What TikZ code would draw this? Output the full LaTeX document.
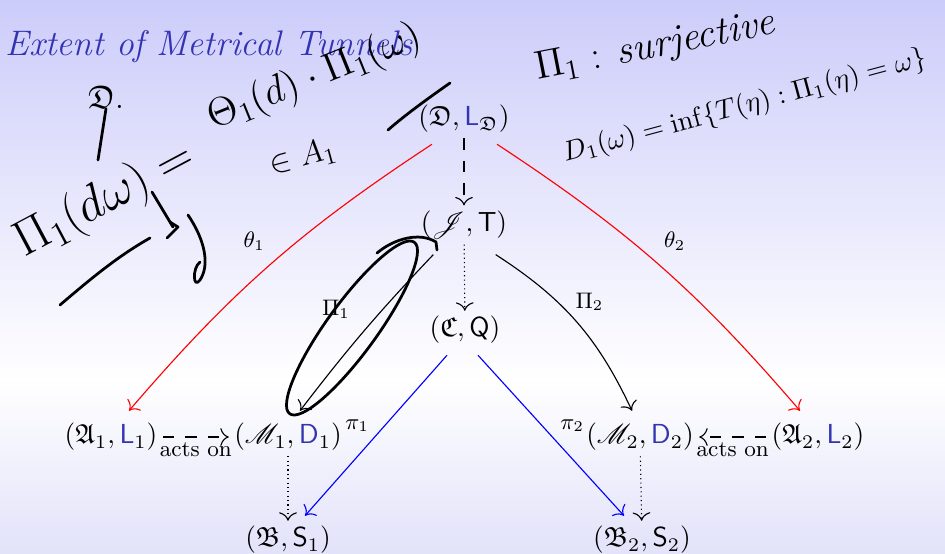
\RequirePackage{fix-cm}
\documentclass[tikz,border=0pt]{standalone}
\usepackage{amssymb}
\usepackage{mathrsfs}
\usetikzlibrary{arrows.meta,positioning}
\definecolor{slideblue}{RGB}{51,51,179}
\definecolor{bgtop}{RGB}{204,204,250}
\definecolor{bgbot}{RGB}{226,226,250}
\newcommand{\bluesf}[1]{\textcolor{slideblue}{\mathsf{#1}}}

\begin{document}
\begin{tikzpicture}[x=0.4pt,y=-0.4pt,
    obj/.style={inner sep=2pt, font=\fontsize{11}{13}\selectfont},
    lbl/.style={text=black, inner sep=1pt, font=\fontsize{9}{11}\selectfont},
    arr/.style={-{To[scale=1.3]}, line width=0.45pt},
    dashline/.style={dash pattern=on 4.5pt off 4.5pt},
    dotline/.style={dash pattern=on 0.45pt off 1.3pt},
    ink/.style={line width=1.1pt, line cap=round, line join=round},
    hand/.style={inner sep=0pt, font=\fontsize{#1}{#1}\selectfont}]
    % Fondo
    \shade[top color=bgtop, bottom color=white] (0,0) rectangle (945,380);
    \shade[top color=white, bottom color=bgbot] (0,380) rectangle (945,553);
    \useasboundingbox (0,0) rectangle (945,553);
    % Título
    \node[anchor=base west, inner sep=0pt, text=slideblue,
        font=\fontsize{14.2}{16}\selectfont\itshape] (title) at (5,55)
        {Extent of Metrical Tunnels};
    % Objetos
    \node[obj] (D)  at (464,119) {$(\mathfrak{D},\bluesf{L}_{\mathfrak{D}})$};
    \node[obj] (J)  at (464,225) {$(\mathscr{J},\mathsf{T})$};
    \node[obj] (C)  at (465,330) {$(\mathfrak{C},\mathsf{Q})$};
    \node[obj] (A1) at (111,437) {$(\mathfrak{A}_1,\bluesf{L}_1)$};
    \node[obj] (M1) at (288,437) {$(\mathscr{M}_1,\bluesf{D}_1)$};
    \node[obj] (M2) at (640,437) {$(\mathscr{M}_2,\bluesf{D}_2)$};
    \node[obj] (A2) at (818,437) {$(\mathfrak{A}_2,\bluesf{L}_2)$};
    \node[obj] (B1) at (288,540) {$(\mathfrak{B},\mathsf{S}_1)$};
    \node[obj] (B2) at (642,540) {$(\mathfrak{B}_2,\mathsf{S}_2)$};
    % Flechas
    \draw[arr, dashline] (D) -- (J);
    \draw[arr, dotline] (J) -- (C);
    \draw[arr, red] ([xshift=7.6pt,yshift=-2.4pt]D.south west) to[bend right=8]
        node[lbl, pos=0.4, left=12pt] {$\theta_1$} ([xshift=7.2pt,yshift=2.8pt]A1.north);
    \draw[arr, red] ([xshift=-7.2pt,yshift=-2.4pt]D.south east) to[bend left=8]
        node[lbl, pos=0.4, right=12pt] {$\theta_2$} ([xshift=-7.2pt,yshift=2.8pt]A2.north);
    \draw[arr] ([xshift=7.2pt,yshift=-4pt]J.south west) to[bend right=3]
        node[lbl, pos=0.35, left=12pt] {$\Pi_1$} ([xshift=4.8pt,yshift=2.8pt]M1.north);
    \draw[arr] ([xshift=-6.8pt,yshift=-4pt]J.south east) to[bend left=16]
        node[lbl, pos=0.36, right=6pt] {$\Pi_2$} ([xshift=-3.2pt,yshift=2.8pt]M2.north);
    \draw[arr, blue] ([xshift=-7.2pt,yshift=-2.4pt]C.south) --
        node[lbl, pos=0.44, left=5pt] {$\pi_1$} ([xshift=6.8pt,yshift=2pt]B1.north);
    \draw[arr, blue] ([xshift=5.2pt,yshift=-2.4pt]C.south) --
        node[lbl, pos=0.44, right=6pt] {$\pi_2$} ([xshift=-7.2pt,yshift=2pt]B2.north);
    \draw[arr, dashline] (A1) -- node[lbl, below=1pt] {acts on} (M1);
    \draw[arr, dashline] (A2) -- node[lbl, below=1pt] {acts on} (M2);
    \draw[arr, dotline] (M1) -- (B1);
    \draw[arr, dotline] (M2) -- (B2);
    % Notas a mano
    \node[hand=16, rotate=11, anchor=base west] (surj) at (537,80)
        {$\Pi_1$ : \textit{surjective}};
    \node[hand=11, rotate=15, anchor=base west] (defD) at (565,162)
        {$D_1(\omega)=\inf\{T(\eta):\Pi_1(\eta)=\omega\}$};
    \node[hand=20, rotate=28, anchor=base west] (lhs) at (24,258)
        {$\Pi_1(d\omega)=$};
    \node[hand=16, rotate=22, anchor=base west] (rhs) at (213,130)
        {$\Theta_1(d)\cdot\Pi_1(\omega)$};
    \node[hand=13, rotate=15, anchor=base west] (inA) at (272,175) {$\in A_1$};
    \node[hand=13] (hD) at (106,97) {$\mathfrak{D}.$};
    \draw[ink] (hD.south) -- (98,160);
    \draw[ink] (60,305) .. controls (95,275) and (120,255) .. (150,238);
    \draw[ink] (152,192) -- (173,227);
    \draw[ink] (167,238) -- (178,227) -- (170,222);
    \draw[ink] (188,215) .. controls (205,240) and (210,265) .. (200,280)
        .. controls (193,290) and (192,268) .. (200,262);
    \draw[ink] (388,130) .. controls (405,115) and (430,97) .. (450,83);
    \draw[ink, rotate around={54:(352,328)}] (352,328) ellipse [x radius=106, y radius=25];
    \draw[ink] (377,253) .. controls (395,238) and (420,232) .. (436,242) -- (437,250);
\end{tikzpicture}
\end{document}
